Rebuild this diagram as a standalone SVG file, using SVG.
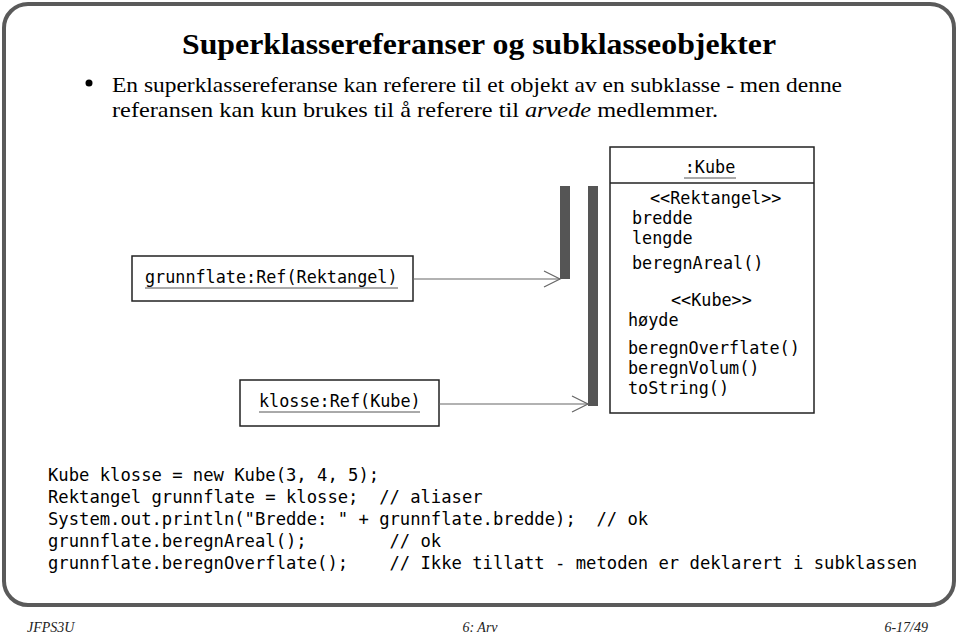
<svg xmlns="http://www.w3.org/2000/svg" width="960" height="636" viewBox="0 0 960 636">
<style>
.frame{fill:#fff;stroke:#5a5a5a;stroke-width:4}
.title{font-family:"Liberation Serif",serif;font-weight:bold;font-size:30px;fill:#000}
.body{font-family:"Liberation Serif",serif;font-size:22px;fill:#000}
.mono{font-family:"DejaVu Sans Mono",monospace;font-size:16.8px;fill:#000;white-space:pre}
.code{font-family:"DejaVu Sans Mono",monospace;font-size:17.2px;fill:#000;white-space:pre}
.foot{font-family:"Liberation Serif",serif;font-style:italic;font-size:14px;fill:#222}
.box{fill:#fff;stroke:#222;stroke-width:1.5}
.bar{fill:#555}
.conn{stroke:#666;stroke-width:1.2;fill:none}
.ul{stroke:#555;stroke-width:1}
</style>
<rect class="frame" x="4" y="4" width="950" height="601" rx="24" ry="24"/>
<text class="title" x="182" y="54" textLength="594" lengthAdjust="spacingAndGlyphs">Superklassereferanser og subklasseobjekter</text>
<circle cx="89" cy="83" r="3.5" fill="#000"/>
<text class="body" x="112" y="92" textLength="730" lengthAdjust="spacingAndGlyphs">En superklassereferanse kan referere til et objekt av en subklasse - men denne</text>
<text class="body" x="112" y="117" textLength="606" lengthAdjust="spacingAndGlyphs">referansen kan kun brukes til å referere til <tspan font-style="italic">arvede</tspan> medlemmer.</text>

<g id="grunnflate">
<rect class="box" x="132" y="256" width="281" height="45"/>
<text class="mono" x="145" y="283">grunnflate:Ref(Rektangel)</text>
<line class="ul" x1="145" y1="288" x2="398" y2="288"/>
</g>
<g id="klosse">
<rect class="box" x="240" y="380" width="199" height="46"/>
<text class="mono" x="259" y="407">klosse:Ref(Kube)</text>
<line class="ul" x1="259" y1="412" x2="420" y2="412"/>
</g>
<g id="bar1"><rect class="bar" x="560" y="186" width="10" height="93"/></g>
<g id="bar2"><rect class="bar" x="588" y="186" width="10" height="220"/></g>
<g id="kube">
<rect class="box" x="610" y="147" width="204" height="266"/>
<line stroke="#222" stroke-width="1.5" x1="610" y1="183" x2="814" y2="183"/>
<text class="mono" x="710" y="173" text-anchor="middle">:Kube</text>
<line class="ul" x1="684" y1="178" x2="736" y2="178"/>
<text class="mono" x="650" y="204">&lt;&lt;Rektangel&gt;&gt;</text>
<text class="mono" x="632" y="224">bredde</text>
<text class="mono" x="632" y="244">lengde</text>
<text class="mono" x="632" y="269">beregnAreal()</text>
<text class="mono" x="671" y="306">&lt;&lt;Kube&gt;&gt;</text>
<text class="mono" x="628" y="326">høyde</text>
<text class="mono" x="628" y="354">beregnOverflate()</text>
<text class="mono" x="628" y="374">beregnVolum()</text>
<text class="mono" x="628" y="394">toString()</text>
</g>
<g id="connectors">
<line class="conn" x1="413" y1="279" x2="560" y2="279"/>
<polyline class="conn" points="544,271 560,279 544,287"/>
<line class="conn" x1="439" y1="404" x2="588" y2="404"/>
<polyline class="conn" points="572,396 588,404 572,412"/>
</g>
<g id="code">
<text class="code" x="48" y="481">Kube klosse = new Kube(3, 4, 5);</text>
<text class="code" x="48" y="503">Rektangel grunnflate = klosse;  // aliaser</text>
<text class="code" x="48" y="525">System.out.println("Bredde: " + grunnflate.bredde);  // ok</text>
<text class="code" x="48" y="547">grunnflate.beregnAreal();        // ok</text>
<text class="code" x="48" y="569">grunnflate.beregnOverflate();    // Ikke tillatt - metoden er deklarert i subklassen</text>
</g>
<text class="foot" x="27" y="632">JFPS3U</text>
<text class="foot" x="480" y="632" text-anchor="middle">6: Arv</text>
<text class="foot" x="928" y="632" text-anchor="end">6-17/49</text>
</svg>
